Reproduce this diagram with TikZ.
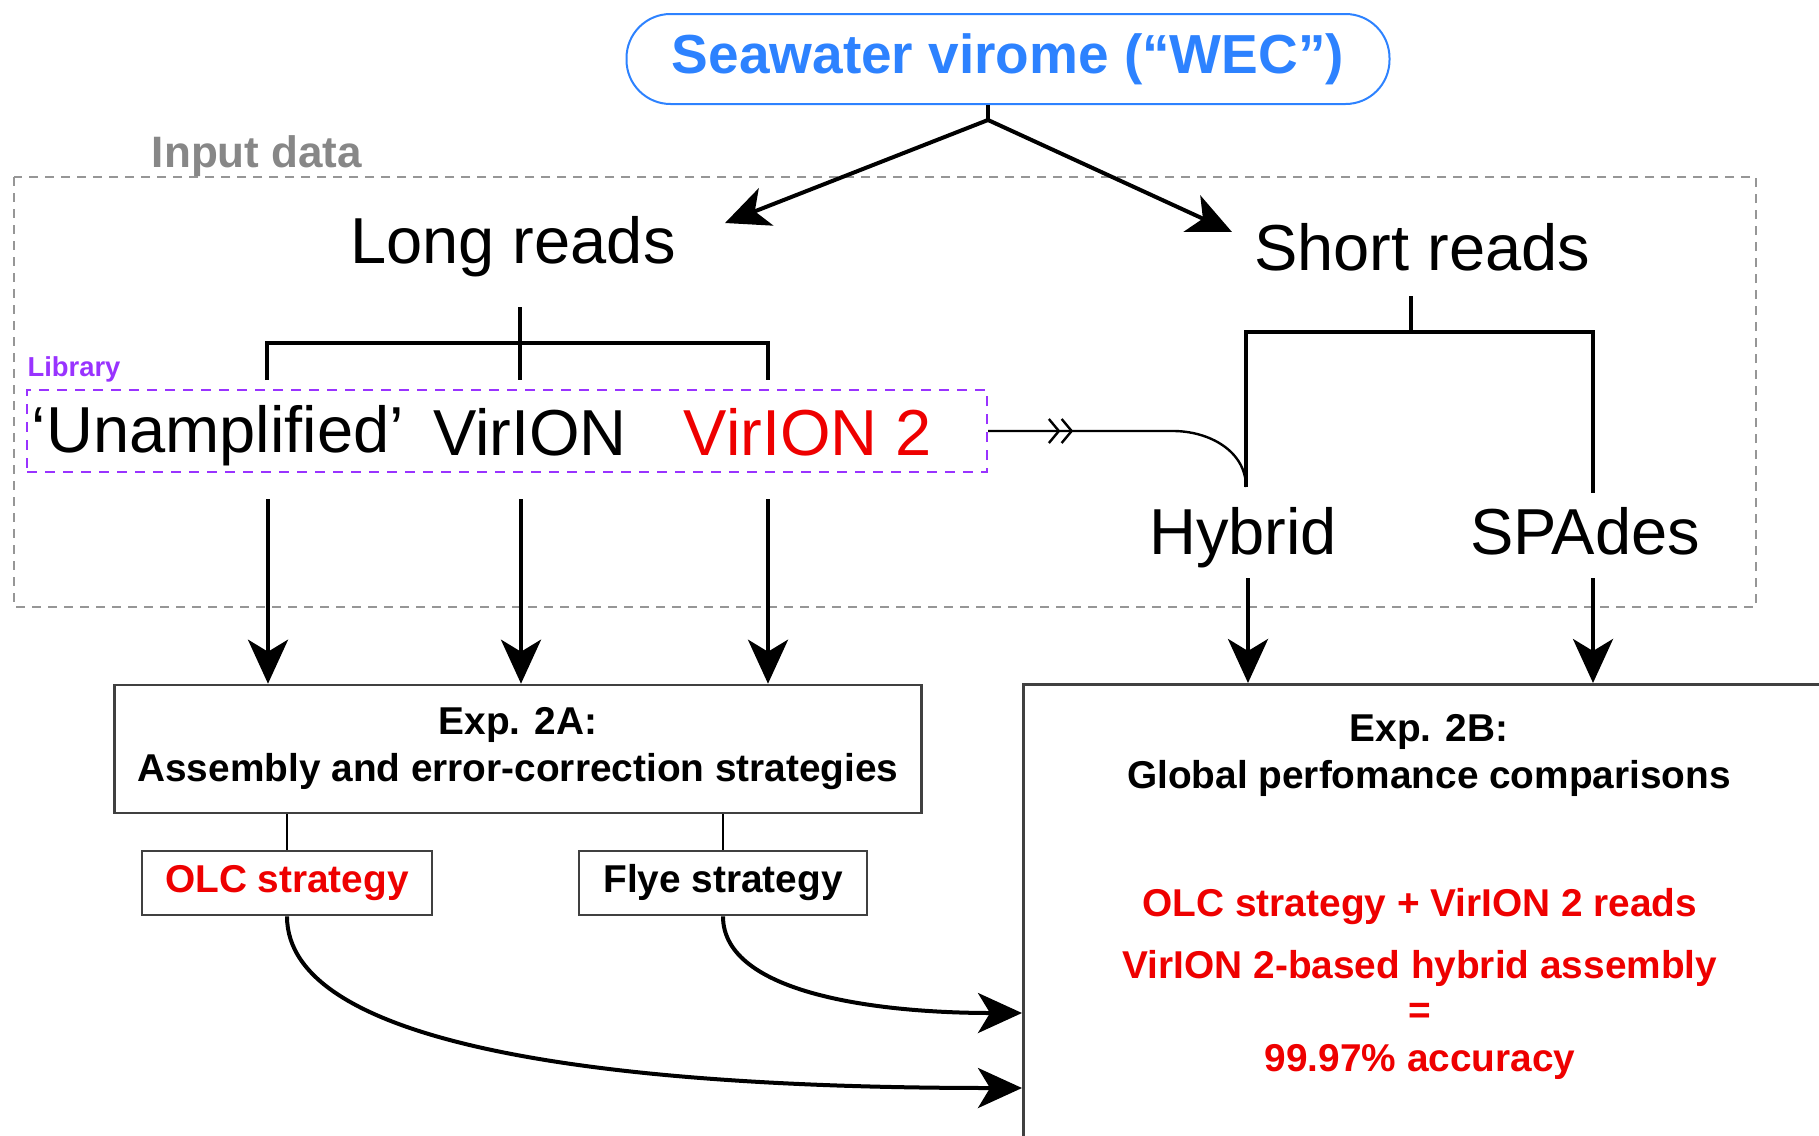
\documentclass[tikz,border=0pt]{standalone}
\usepackage{fontspec}
\setmainfont{Liberation Sans}
\usetikzlibrary{arrows.meta,decorations.markings}

\newcommand*\pixel{0.5pt}
\definecolor{wecblue}{RGB}{45,130,255}
\definecolor{libpurple}{RGB}{153,51,255}
\definecolor{hitred}{RGB}{238,0,0}
\definecolor{framegray}{RGB}{150,150,150}

\tikzset{
    bigtext/.style={
        inner sep=0pt,
        text height=24.4pt,
        text depth=6.5pt,
        yshift=-2.7pt,
        font=\fontsize{32.5}{39}\selectfont
    },
    boldtext/.style={inner sep=0pt, yshift=-1.5pt, align=center, font=\bfseries\fontsize{19.4}{23.5}\selectfont},
    box/.style 2 args={
        draw=black!75,
        line width=1.3pt,
        fill=white,
        inner sep=0pt,
        minimum width=#1*\pixel,
        minimum height=#2*\pixel
    },
    flow/.style={line width=2pt, -{Stealth[length=22pt,width=20pt,inset=6pt]}},
    fork/.style={line width=1.8pt}
}

\begin{document}
\begin{tikzpicture}[x=\pixel,y=-\pixel]
    \useasboundingbox (0,0) rectangle (1819,1135);
    \clip (0,0) rectangle (1819,1135);

    % The sample on top.
    \node[draw=wecblue, line width=1pt, rounded corners=22pt, minimum width=763*\pixel,
          minimum height=90*\pixel, text=wecblue, font=\bfseries\fontsize{27.5}{33}\selectfont]
        (wec) at (1008,59) {Seawater virome (“WEC”)};

    % Input data frame.
    \draw[framegray, line width=1pt, dash pattern=on 4.5pt off 3.5pt] (14,177) rectangle (1756,607);
    \node[inner sep=0pt, text=framegray!90!black, font=\bfseries\fontsize{22}{26}\selectfont]
        (input) at (257,156) {Input data};

    % Split into the two kinds of reads.
    \node[bigtext] (long) at (513,240) {Long reads};
    \node[bigtext] (short) at (1422,247) {Short reads};
    \coordinate (split) at (988,120);
    \coordinate (longin) at (725,223);
    \coordinate (shortin) at (1232,232);
    \draw[line width=2pt] (split |- wec.south) -- (split);
    \draw[flow] (split) -- (longin);
    \draw[flow] (split) -- (shortin);

    % Library types.
    \node[draw=libpurple, line width=1.2pt, dash pattern=on 5pt off 4pt,
          minimum width=960*\pixel, minimum height=82*\pixel] (library) at (507,431) {};
    \node[inner sep=0pt, text=libpurple, font=\bfseries\fontsize{13.7}{16}\selectfont]
        (libtag) at (74,369) {Library};
    \node[bigtext] (unamp) at (218,429) {‘Unamplified’};
    \node[bigtext] (virion) at (530,432) {VirION};
    \node[bigtext, text=hitred] (virion2) at (808,432) {VirION 2};

    % Long reads bracket.
    \coordinate (longout) at (520,307);
    \coordinate (lfork) at (520,343);
    \coordinate (unampup) at (267,380);
    \coordinate (virionup) at (520,380);
    \coordinate (virion2up) at (768,380);
    \draw[fork] (unampup) |- (lfork) -| (virion2up);
    \draw[fork] (longout) -- (virionup);

    % Short reads bracket.
    \node[bigtext] (hybrid) at (1243,531) {Hybrid};
    \node[bigtext] (spades) at (1585,531) {SPAdes};
    \coordinate (shortout) at (1411,296);
    \coordinate (sfork) at (1411,332);
    \coordinate (hybridup) at (1246,487);
    \coordinate (spadesup) at (1593,493);
    \draw[fork] (shortout) -- (sfork);
    \draw[fork] (hybridup) |- (sfork) -| (spadesup);

    % VirION 2 reads go into the hybrid assembly.
    \coordinate (bend) at (1173,431);
    \draw[line width=1.2pt, postaction={decorate},
          decoration={markings, mark=at position 42.5pt with
              {\arrow{Straight Barb[length=5pt,width=12pt]Straight Barb[length=5pt,width=12pt]}}}]
        (library.east) -- (bend) to[out=0,in=90] (hybridup);

    % The experiments.
    \node[box={807}{128}, boldtext] (a2) at (518,746)
        {Exp. 2A:\\Assembly and error-correction strategies};
    \node[box={290}{64}, boldtext, text=hitred] (olc) at (287,880) {OLC strategy};
    \node[box={288}{64}, boldtext] (flye) at (723,880) {Flye strategy};
    \draw[line width=1.3pt] (olc.north) -- (olc.north |- a2.south);
    \draw[line width=1.3pt] (flye.north) -- (flye.north |- a2.south);

    \node[box={900}{500}, anchor=north west] (b2) at (1022,683) {};
    \node[boldtext] (b2title) at (1429,752) {Exp. 2B:\\Global perfomance comparisons};
    \foreach \y/\line in {904/{OLC strategy + VirION 2 reads},965/{VirION 2-based hybrid assembly},
                          1010/=,1059/{99.97\% accuracy}}
        \node[boldtext, text=hitred] (res\y) at (1420,\y) {\line};

    % Draw the arrows into the experiments.
    \coordinate (unampout) at (268,499);
    \coordinate (virionout) at (521,499);
    \coordinate (virion2out) at (768,499);
    \coordinate (hybridout) at (1248,578);
    \coordinate (spadesout) at (1593,578);
    \foreach \src in {unampout,virionout,virion2out}
        \draw[flow] (\src) -- (\src |- a2.north);
    \foreach \src in {hybridout,spadesout}
        \draw[flow] (\src) -- (\src |- b2.north);

    \coordinate (flyein) at (1022,1013);
    \coordinate (olcin) at (1022,1088);
    \draw[flow] (flye.south) .. controls +(0,78) and +(-142,0) .. (flyein);
    \draw[flow] (olc.south) .. controls +(0,128) and +(-422,0) .. (olcin);
\end{tikzpicture}
\end{document}
